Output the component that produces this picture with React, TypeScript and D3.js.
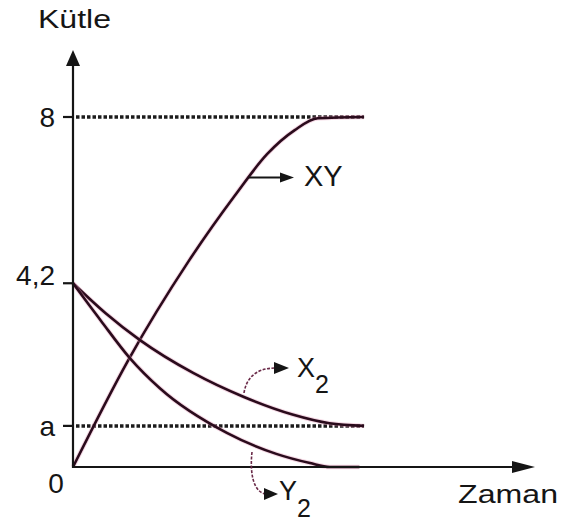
import React from "react";
import * as d3 from "d3";

// mass ticks on the vertical axis
const massTicks = [8, 4.2, 0.94];
const massTickLabels = ["8", "4,2", "a"];

// XY forms, X2 and Y2 are consumed
const xyTime = [0, 1.2, 2.5, 3.5, 4.2, 4.8, 5.3, 6.3];
const xyMass = [0, 2.45, 4.7, 6.2, 7.15, 7.7, 7.97, 8];

const x2Time = [0, 0.7, 1.45, 2.6, 3.7, 4.75, 5.55, 6.3];
const x2Mass = [4.2, 3.52, 2.9, 2.15, 1.6, 1.2, 1.0, 0.94];

const y2Time = [0, 0.6, 1.23, 1.88, 3.33, 4.4, 5.13, 5.56, 6.2];
const y2Mass = [4.2, 3.35, 2.49, 1.8, 0.78, 0.3, 0.09, 0, 0];

const W = 563;
const H = 523;
const font = "'Liberation Sans', Arial, Helvetica, sans-serif";
const curveColor = "#2a0b1c";
const ink = "#151515";

const x = d3.scaleLinear().domain([0, 10]).range([73, 535]);
const y = d3.scaleLinear().domain([0, 8]).range([467, 117]);

const line = d3
  .line<[number, number]>()
  .x((d) => x(d[0]))
  .y((d) => y(d[1]))
  .curve(d3.curveMonotoneX);

const zip = (t: number[], m: number[]) => t.map((v, i) => [v, m[i]] as [number, number]);

const series = [zip(xyTime, xyMass), zip(x2Time, x2Mass), zip(y2Time, y2Mass)];

const App = () => {
  const x0 = x(0);
  const y0 = y(0);
  const dotEnd = x(6.3);

  return (
    <svg
      width={W}
      height={H}
      style={{ position: "absolute", left: 0, top: 0, background: "#fff" }}
      fontFamily={font}
    >
      {/* dotted guide lines */}
      {[8, massTicks[2]].map((m) => (
        <line
          key={m}
          x1={x0 + 3}
          x2={dotEnd}
          y1={y(m)}
          y2={y(m)}
          stroke="#1c1c1c"
          strokeWidth={3.5}
          strokeDasharray="3.5 2"
        />
      ))}

      {/* curves */}
      {series.map((s, i) => (
        <g key={i}>
          <path d={line(s) ?? ""} fill="none" stroke="#e39ab8" strokeWidth={4.5} opacity={0.4} />
          <path d={line(s) ?? ""} fill="none" stroke={curveColor} strokeWidth={2.6} />
        </g>
      ))}

      {/* axes */}
      <line x1={x0} x2={x0} y1={y0 + 1} y2={58} stroke={ink} strokeWidth={2.2} />
      <path d={`M${x0},50 L${x0 - 7},66 L${x0 + 7},66 Z`} fill={ink} />
      <line x1={x0} x2={516} y1={y0} y2={y0} stroke={ink} strokeWidth={2.2} />
      <path d={`M535,${y0} L512,${y0 - 6} L512,${y0 + 6} Z`} fill={ink} />

      {/* ticks */}
      {massTicks.map((m, i) => {
        const nudge = massTickLabels[i] === "4,2" ? -8 : 0;
        return (
          <g key={m}>
            <line x1={x0 - 10} x2={x0} y1={y(m)} y2={y(m)} stroke={ink} strokeWidth={2.2} />
            <text
              x={55}
              y={y(m) + 10 + nudge}
              textAnchor="end"
              fontSize={28}
              fill={ink}
            >
              {massTickLabels[i]}
            </text>
          </g>
        );
      })}
      <text x={56} y={493} textAnchor="middle" fontSize={28} fill={ink}>
        0
      </text>

      {/* axis titles */}
      <text x={38} y={28} fontSize={26} fill={ink} textLength={73} lengthAdjust="spacingAndGlyphs">
        Kütle
      </text>
      <text x={458} y={503} fontSize={26} fill={ink} textLength={100} lengthAdjust="spacingAndGlyphs">
        Zaman
      </text>

      {/* XY annotation */}
      <line x1={x(3.8)} x2={284} y1={y(6.62)} y2={y(6.62)} stroke={ink} strokeWidth={2} />
      <path d={`M294,${y(6.62)} L280,${y(6.62) - 5} L280,${y(6.62) + 5} Z`} fill={ink} />
      <text x={304} y={186} fontSize={29} fill={ink}>
        XY
      </text>

      {/* X2 annotation */}
      <path
        d="M244,393 C246,380 254,368 276,368"
        fill="none"
        stroke="#6a2a48"
        strokeWidth={1.6}
        strokeDasharray="3 1.5"
      />
      <path d="M289,368 L274,362 L274,374 Z" fill={ink} />
      <text x={297} y={377} fontSize={27} fill={ink}>
        X
        <tspan dy={16} fontSize={25}>2</tspan>
      </text>

      {/* Y2 annotation */}
      <path
        d="M252,452 C250,470 252,492 266,494"
        fill="none"
        stroke="#6a2a48"
        strokeWidth={1.6}
        strokeDasharray="3 1.5"
      />
      <path d="M278,494 L264,488 L264,500 Z" fill={ink} />
      <text x={279} y={500} fontSize={27} fill={ink}>
        Y
        <tspan dy={17} fontSize={25}>2</tspan>
      </text>
    </svg>
  );
};

export default App;
